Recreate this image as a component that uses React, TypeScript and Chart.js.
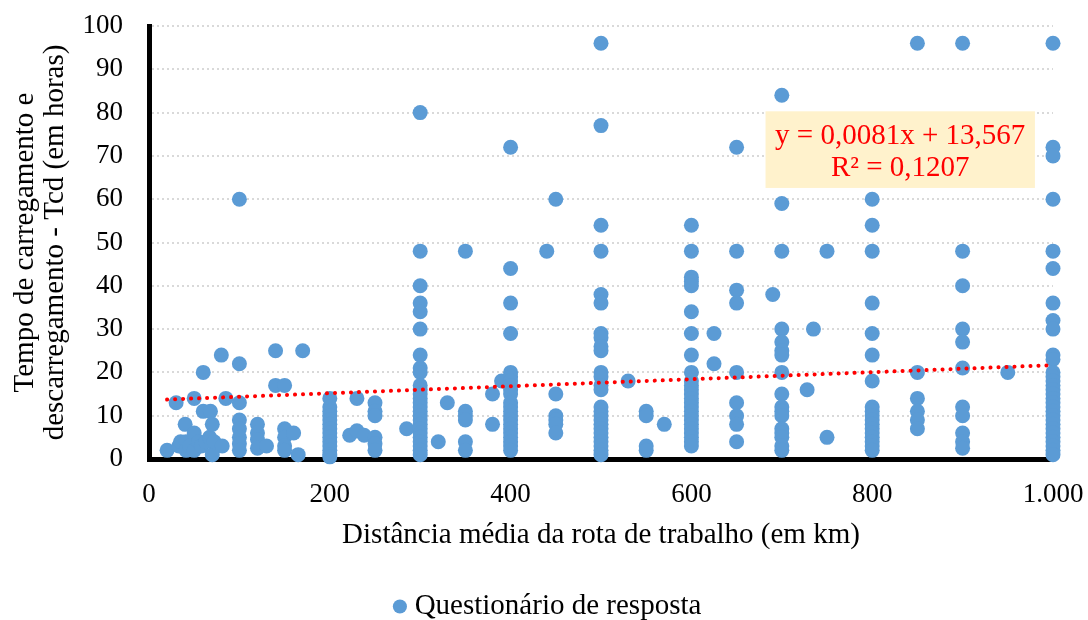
import React, { useEffect, useRef } from "react";
import { Chart, registerables } from "chart.js";

Chart.register(...registerables);

// Isolated points (km, hours)
const isoladosKm = [
  20, 30, 33, 35, 40, 41, 41, 45, 50, 50, 50, 55, 58, 60, 60, 63, 67, 68, 70, 70, 72, 80, 81, 85,
  120, 120, 120, 120, 130, 140, 140, 150, 150, 150, 150, 150, 160, 165, 170,
  222, 230, 238, 230, 285, 320, 330, 380, 380, 390, 440, 530, 570, 625, 625, 690,
  728, 735, 750, 750, 950,
];
const isoladosHoras = [
  2, 13, 3, 4, 8, 4, 2, 3, 14, 6, 2, 4, 3, 20, 11, 4, 5, 11, 8, 1, 4, 24, 3, 14,
  8, 6, 4.5, 2.5, 3, 25, 17, 17, 7, 5, 3, 2, 6, 1, 25,
  5.5, 6.5, 5.5, 14, 7, 4, 13, 15, 8, 18, 48, 18, 8, 29, 22, 38,
  16, 30, 48, 5, 20,
];

// Columns of answers at round distances (hours)
const horas100 = [60, 22, 13, 9, 7, 5, 3.5, 2];
const horas200 = [14, 12, 11, 10, 9, 8, 7, 6, 5, 4, 3, 2, 1, 0.5];
const horas250 = [13, 11, 10, 5, 3.5, 2];
const horas300 = [80, 48, 40, 36, 34, 30, 24, 21, 20, 17, 16, 15, 14, 13, 12, 11, 10, 9, 8, 7, 6, 5, 4, 3, 2, 1];
const horas350 = [48, 11, 10, 9, 4, 2];
const horas400 = [72, 44, 36, 29, 20, 19, 18, 17, 16, 15, 13, 12, 11, 10, 9, 8, 7, 6, 5, 4, 3, 2];
const horas450 = [60, 15, 10, 9, 8, 6];
const horas500 = [96, 77, 54, 48, 38, 36, 29, 28, 26, 25, 20, 19, 17, 16, 12, 11, 10, 9, 8, 7, 6, 5, 4, 3, 2, 1];
const horas550 = [11, 10, 3, 2];
const horas600 = [54, 48, 42, 41, 40, 34, 29, 24, 20, 18, 17, 16, 15, 14, 13, 12, 11, 10, 9, 8, 7, 6, 5, 4, 3];
const horas650 = [72, 48, 39, 36, 20, 13, 10, 8, 4];
const horas700 = [84, 59, 48, 30, 27, 25, 24, 20, 15, 12, 11, 10, 7, 6, 5, 3, 2];
const horas800 = [60, 54, 48, 36, 29, 24, 18, 12, 11, 10, 9, 8, 7, 6, 5, 4, 3, 2];
const horas850 = [96, 20, 14, 11, 9, 7];
const horas900 = [96, 48, 40, 30, 27, 21, 12, 10, 6, 4, 2.5];
const horas1000 = [96, 72, 70, 60, 48, 44, 36, 32, 30, 24, 23, 20, 19, 18, 17, 16, 15, 14, 13, 12, 11, 10, 9, 8, 7, 6, 5, 4, 3, 2, 1];

const colunasKm = [100, 200, 250, 300, 350, 400, 450, 500, 550, 600, 650, 700, 800, 850, 900, 1000];
const colunasHoras = [
  horas100, horas200, horas250, horas300, horas350, horas400, horas450, horas500,
  horas550, horas600, horas650, horas700, horas800, horas850, horas900, horas1000,
];

// Linear trend line end points (y = 0,0081x + 13,567)
const tendenciaKm = [20, 1000];
const tendenciaHoras = [13.73, 21.67];

const equacaoTexto = ["y = 0,0081x + 13,567", "R² = 0,1207"];
const serieNome = "Questionário de resposta";
const eixoXTitulo = "Distância média da rota de trabalho (em km)";
const eixoYTitulo = ["Tempo de carregamento e", "descarregamento - Tcd (em horas)"];

const FONT = '"Liberation Serif", "Times New Roman", serif';
const TICK_FS = 27;
const FS = 29;

const fmt = (v: number) => String(v).replace(/\B(?=(\d{3})+(?!\d))/g, ".");

const equationBox = {
  id: "equationBox",
  afterLayout(chart: any) {
    const lg = chart.legend;
    if (lg) {
      lg.left += 24;
      lg.right += 24;
    }
  },
  afterDatasetsDraw(chart: any) {
    const { ctx, scales } = chart;
    const x = scales.x;
    const y = scales.y;
    const left = x.getPixelForValue(682);
    const right = x.getPixelForValue(980);
    const top = y.getPixelForValue(80.3);
    const bottom = y.getPixelForValue(62.6);
    ctx.save();
    ctx.fillStyle = "#fff2cc";
    ctx.fillRect(left, top, right - left, bottom - top);
    ctx.fillStyle = "#ff0000";
    ctx.font = `${FS}px ${FONT}`;
    ctx.textAlign = "center";
    ctx.textBaseline = "middle";
    const cx = (left + right) / 2;
    ctx.fillText(equacaoTexto[0], cx, top + 25);
    ctx.fillText(equacaoTexto[1], cx, top + 57);
    ctx.restore();
  },
};

export default function App() {
  const ref = useRef<HTMLCanvasElement | null>(null);

  useEffect(() => {
    if (!ref.current) return;
    const pontos: { x: number; y: number }[] = [];
    isoladosKm.forEach((km, i) => pontos.push({ x: km, y: isoladosHoras[i] }));
    colunasKm.forEach((km, c) => colunasHoras[c].forEach((h) => pontos.push({ x: km, y: h })));
    const tendencia = tendenciaKm.map((km, i) => ({ x: km, y: tendenciaHoras[i] }));

    const chart = new Chart(ref.current, {
      type: "scatter",
      data: {
        datasets: [
          {
            label: serieNome,
            data: pontos,
            backgroundColor: "#5b9bd5",
            borderColor: "#5b9bd5",
            borderWidth: 0,
            pointRadius: 7.5,
            pointStyle: "circle",
            clip: false as any,
            order: 1,
          },
          {
            type: "line" as any,
            label: "Linear",
            data: tendencia,
            borderColor: "#ff0000",
            borderWidth: 4,
            borderDash: [0.1, 7.9],
            borderCapStyle: "round",
            pointRadius: 0,
            showLine: true,
            fill: false,
            order: 0,
          } as any,
        ],
      },
      options: {
        responsive: false,
        animation: false,
        layout: { padding: { top: 26, right: 35, left: 0, bottom: -11 } },
        plugins: {
          tooltip: { enabled: false },
          legend: {
            position: "bottom",
            labels: {
              color: "#000",
              font: { family: FONT, size: FS },
              usePointStyle: true,
              pointStyle: "circle",
              boxHeight: 10,
              boxWidth: 0.5,
              padding: 2,
              filter: (item: any) => item.datasetIndex === 0,
            },
          },
        },
        scales: {
          x: {
            type: "linear",
            min: 0,
            max: 1000,
            ticks: {
              stepSize: 200,
              color: "#000",
              font: { family: FONT, size: TICK_FS },
              padding: 20,
              callback: (v: any) => fmt(Number(v)),
            },
            grid: { display: false, drawTicks: false },
            border: { display: true, color: "#000", width: 5 },
            title: {
              display: true,
              text: eixoXTitulo,
              color: "#000",
              font: { family: FONT, size: FS },
              padding: { top: 7, bottom: 37 },
            },
            afterFit: (scale: any) => {
              scale.height = 131;
              scale.paddingLeft = 0;
              scale.paddingRight = 0;
            },
          },
          y: {
            type: "linear",
            min: 0,
            max: 100,
            ticks: {
              stepSize: 10,
              color: "#000",
              font: { family: FONT, size: TICK_FS },
              padding: 26,
            },
            grid: { color: "#d9d9d9", lineWidth: 2, drawTicks: false },
            border: { display: true, color: "#000", width: 5, dash: [2, 3] },
            title: {
              display: true,
              text: eixoYTitulo,
              color: "#000",
              font: { family: FONT, size: FS, lineHeight: 1.035 },
              padding: { top: 10, bottom: 5 },
            },
            afterFit: (scale: any) => {
              scale.width = 149;
              scale.paddingTop = 0;
              scale.paddingBottom = 0;
            },
          },
        },
      } as any,
      plugins: [equationBox],
    });
    return () => chart.destroy();
  }, []);

  return (
    <div style={{ position: "fixed", left: 0, top: 0, width: 1088, height: 620, background: "#fff" }}>
      <canvas ref={ref} width={1088} height={620} style={{ display: "block" }} />
    </div>
  );
}
